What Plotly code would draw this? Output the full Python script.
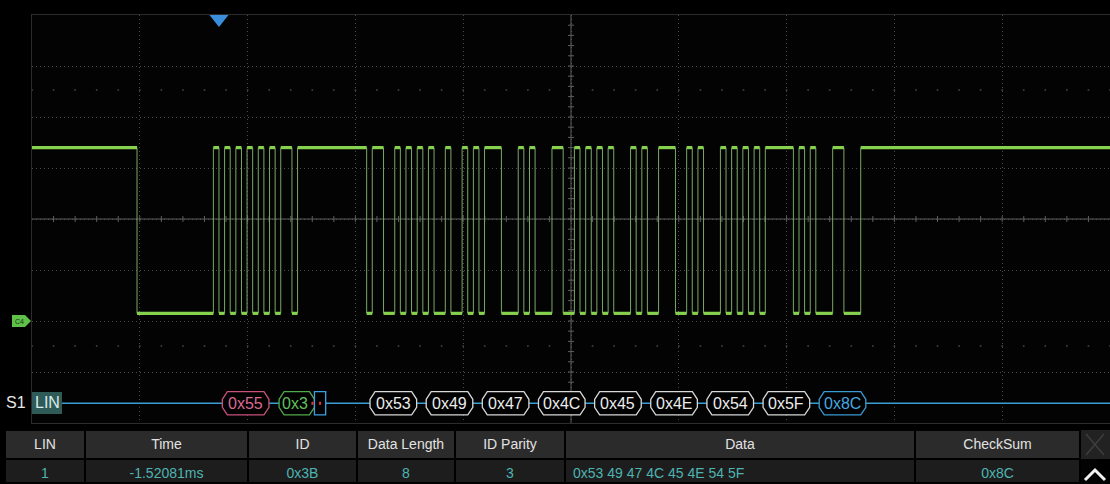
import plotly.graph_objects as go

W, H = 1110, 484

# ---------------- data ----------------
time_range_ms = [-3.469, 16.531]      # 2 ms/div, 10 divisions
volt_range = [-8.0, 24.0]             # 4 V/div, 8 divisions
time_per_div_ms = 2.0
volt_per_div = 4.0

initial_level = 1
edge_t_ms = [
    -1.521, -0.104,
    0.000, 0.104, 0.208, 0.313, 0.417, 0.521, 0.625, 0.729, 0.833, 0.938,
    1.042, 1.146, 1.354, 1.458,
    2.740, 2.844, 3.053, 3.261, 3.365, 3.469, 3.573, 3.678,
    3.782, 3.886, 3.990, 4.199, 4.303, 4.511, 4.615, 4.720,
    4.823, 4.927, 5.240, 5.552, 5.656, 5.761,
    5.865, 6.178, 6.386, 6.594, 6.698, 6.803,
    6.907, 7.011, 7.115, 7.220, 7.324, 7.636, 7.740, 7.845,
    7.948, 8.156, 8.469, 8.677, 8.781, 8.886,
    8.990, 9.303, 9.407, 9.511, 9.615, 9.719, 9.823, 9.928,
    10.032, 10.136, 10.657, 10.761, 10.865, 10.970,
    11.073, 11.386, 11.594, 11.906,
]
edge_level = [
    0, 1,
    0, 1, 0, 1, 0, 1, 0, 1, 0, 1,
    0, 1, 0, 1,
    0, 1, 0, 1, 0, 1, 0, 1,
    0, 1, 0, 1, 0, 1, 0, 1,
    0, 1, 0, 1, 0, 1,
    0, 1, 0, 1, 0, 1,
    0, 1, 0, 1, 0, 1, 0, 1,
    0, 1, 0, 1, 0, 1,
    0, 1, 0, 1, 0, 1, 0, 1,
    0, 1, 0, 1, 0, 1,
    0, 1, 0, 1,
]
level_volts = [0.6, 13.6]

bit_ms = 0.10417
byte_labels = ["0x55", "0x3", "0x53", "0x49", "0x47", "0x4C", "0x45", "0x4E", "0x54", "0x5F", "0x8C"]
byte_start_ms = [0.000, 1.042, 2.740, 3.782, 4.823, 5.865, 6.907, 7.948, 8.990, 10.032, 11.073]
byte_role = ["sync", "id", "data", "data", "data", "data", "data", "data", "data", "data", "checksum"]

table_header = ["LIN", "Time", "ID", "Data Length", "ID Parity", "Data", "CheckSum"]
table_row = ["1", "-1.52081ms", "0x3B", "8", "3", "0x53 49 47 4C 45 4E 54 5F", "0x8C"]

# ---------------- layout geometry ----------------
PL, PR, PT, PB = 32, 1110, 15, 423
def fx(p):
    return p / W
def fy(p):
    return (H - p) / H
ms_per_px = (time_range_ms[1] - time_range_ms[0]) / (PR - PL)
v_per_px = (volt_range[1] - volt_range[0]) / (PB - PT)

FONT = "Liberation Sans, Arial, sans-serif"
GREEN = "#86d24f"
EDGE = "#7aa866"

fig = go.Figure()

# ----- centre axes with tick marks -----
xc = (time_range_ms[0] + time_range_ms[1]) / 2
yc = (volt_range[0] + volt_range[1]) / 2
tx, ty = [], []
n = int(round((time_range_ms[1] - time_range_ms[0]) / (time_per_div_ms / 5)))
for i in range(1, n):
    t = time_range_ms[0] + i * time_per_div_ms / 5
    tx += [t, t, None]
    ty += [yc - 3 * v_per_px, yc + 3 * v_per_px, None]
m = int(round((volt_range[1] - volt_range[0]) / (volt_per_div / 5)))
for j in range(1, m):
    v = volt_range[0] + j * volt_per_div / 5
    tx += [xc - 3 * ms_per_px, xc + 3 * ms_per_px, None]
    ty += [v, v, None]
tx += [time_range_ms[0], time_range_ms[1], None, xc, xc, None]
ty += [yc, yc, None, volt_range[0], volt_range[1], None]
fig.add_trace(go.Scatter(x=tx, y=ty, mode="lines", line=dict(color="#5e5e5e", width=1),
                         hoverinfo="skip", showlegend=False))

# faint dotted rows
dx, dy = [], []
for yy in (90, 346):
    vv = volt_range[0] + (PB - yy) * v_per_px
    for i in range(0, n + 1):
        dx.append(time_range_ms[0] + i * time_per_div_ms / 5)
        dy.append(vv)
fig.add_trace(go.Scatter(x=dx, y=dy, mode="markers", marker=dict(color="#3c3c3c", size=2),
                         hoverinfo="skip", showlegend=False))

# ----- waveform -----
bounds = [time_range_ms[0]] + edge_t_ms + [time_range_ms[1]]
levels = [initial_level] + edge_level
hx, hy = [], []
for i, lv in enumerate(levels):
    hx += [bounds[i], bounds[i + 1], None]
    hy += [level_volts[lv], level_volts[lv], None]
vx, vy = [], []
for t in edge_t_ms:
    vx += [t, t, None]
    vy += [level_volts[0], level_volts[1], None]
fig.add_trace(go.Scatter(x=vx, y=vy, mode="lines", line=dict(color=EDGE, width=1),
                         hoverinfo="skip", showlegend=False))
fig.add_trace(go.Scatter(x=hx, y=hy, mode="lines", line=dict(color=GREEN, width=3.2),
                         hoverinfo="skip", showlegend=False))

shapes = []
annotations = []

def ann(x, y, text, size, color, xref="paper", yref="paper"):
    annotations.append(dict(x=x, y=y, xref=xref, yref=yref, text=text, showarrow=False,
                            xanchor="center", yanchor="middle",
                            font=dict(family=FONT, size=size, color=color)))

# ----- decode bus -----
BUS_Y = 403.3
HH = 11.6
shapes.append(dict(type="line", xref="paper", yref="paper", x0=fx(62), x1=1.0,
                   y0=fy(BUS_Y), y1=fy(BUS_Y), line=dict(color="#3a9ed4", width=1.5), layer="above"))

role_style = {
    "sync": ("#c8527e", "#dc6a94"),
    "id": ("#52a84c", "#62c05a"),
    "data": ("#d8d8d8", "#ececec"),
    "checksum": ("#3a9ad2", "#46a8e0"),
}

def octo(x0, x1, c_ms, yc_px, hh_px, a_px):
    yt, yb = fy(yc_px - hh_px), fy(yc_px + hh_px)
    ya, yb2 = fy(yc_px - a_px), fy(yc_px + a_px)
    return (f"M {x0},{ya} L {x0 + c_ms},{yt} L {x1 - c_ms},{yt} L {x1},{ya} "
            f"L {x1},{yb2} L {x1 - c_ms},{yb} L {x0 + c_ms},{yb} L {x0},{yb2} Z")

c_ms = 5 * ms_per_px
for lab, t0, role in zip(byte_labels, byte_start_ms, byte_role):
    border, txt = role_style[role]
    if role == "id":
        x0, x1 = t0 + 0.7 * bit_ms, t0 + 7.0 * bit_ms
    else:
        x0, x1 = t0 + 0.6 * bit_ms, t0 + 8.9 * bit_ms
    shapes.append(dict(type="path", xref="x", yref="paper", path=octo(x0, x1, c_ms, BUS_Y, HH, 4),
                       fillcolor="#000000", line=dict(color=border, width=1.3), layer="above"))
    ann((x0 + x1) / 2 - (0.4 * bit_ms if role == "id" else 0), fy(BUS_Y + 0.5), lab, 16, txt, xref="x")
    if role == "id":
        # parity box and red markers
        b0, b1 = t0 + 7.0 * bit_ms, t0 + 9.0 * bit_ms
        shapes.append(dict(type="rect", xref="x", yref="paper", x0=b0, x1=b1,
                           y0=fy(BUS_Y + HH), y1=fy(BUS_Y - HH), fillcolor="#000000",
                           line=dict(color="#3aa2e2", width=1.3), layer="above"))
        for xm in (b0 - 2 * ms_per_px, (b0 + b1) / 2):
            shapes.append(dict(type="rect", xref="x", yref="paper", x0=xm - ms_per_px, x1=xm + ms_per_px,
                               y0=fy(BUS_Y + 1.5), y1=fy(BUS_Y - 1.5), fillcolor="#e8343a",
                               line=dict(width=0), layer="above"))

# S1 LIN label
ann(fx(16), fy(BUS_Y - 1), "S1", 16, "#e6e6e6")
shapes.append(dict(type="rect", xref="paper", yref="paper", x0=fx(32), x1=fx(62), y0=fy(414), y1=fy(392),
                   fillcolor="#2e5a58", line=dict(width=0), layer="above"))
ann(fx(47), fy(BUS_Y - 1), "LIN", 16, "#dcebea")

# trigger position marker (t = 0)
tw = 9.5 * ms_per_px
shapes.append(dict(type="path", xref="x", yref="paper",
                   path=f"M {-tw},{fy(15)} L {tw},{fy(15)} L 0,{fy(27)} Z",
                   fillcolor="#3a8ede", line=dict(width=0), layer="above"))

# channel ground marker
gy = PB - (0 - volt_range[0]) / v_per_px
shapes.append(dict(type="path", xref="paper", yref="paper",
                   path=(f"M {fx(12)},{fy(gy - 6)} L {fx(25)},{fy(gy - 6)} L {fx(31)},{fy(gy)} "
                         f"L {fx(25)},{fy(gy + 6)} L {fx(12)},{fy(gy + 6)} Z"),
                   fillcolor="#5fc04a", line=dict(width=0), layer="above"))
ann(fx(19), fy(gy), "C4", 7, "#16320f")

# right-hand table controls
shapes.append(dict(type="rect", xref="paper", yref="paper", x0=fx(1081), x1=1.0, y0=fy(459), y1=fy(430),
                   fillcolor="#222222", line=dict(width=0)))
shapes.append(dict(type="path", xref="paper", yref="paper",
                   path=(f"M {fx(1086)},{fy(434)} L {fx(1104)},{fy(455)} M {fx(1104)},{fy(434)} "
                         f"L {fx(1086)},{fy(455)}"),
                   line=dict(color="#3e3e3e", width=1.5)))
shapes.append(dict(type="path", xref="paper", yref="paper",
                   path=f"M {fx(1085)},{fy(480)} L {fx(1095)},{fy(470)} L {fx(1105)},{fy(480)}",
                   line=dict(color="#f2f2f2", width=3)))

# ----- decode table -----
fig.add_trace(go.Table(
    domain=dict(x=[fx(5), fx(1080)], y=[0, fy(430)]),
    columnwidth=[80, 163, 109, 98, 110, 350, 165],
    header=dict(values=table_header, fill_color="#2b2b2b", line=dict(color="#000000", width=2),
                font=dict(family=FONT, size=14, color="#e2e2e2"), align="center", height=29),
    cells=dict(values=[[v] for v in table_row], fill_color="#1d1d1d", line=dict(color="#000000", width=2),
               font=dict(family=FONT, size=14, color="#4db4b2"),
               align=["center", "center", "center", "center", "center", "left", "center"], height=24),
))

fig.update_layout(
    width=W, height=H,
    margin=dict(l=0, r=0, t=0, b=0),
    paper_bgcolor="#000000", plot_bgcolor="#030303",
    showlegend=False, hovermode=False,
    shapes=shapes, annotations=annotations,
    xaxis=dict(domain=[fx(PL), 1.0], range=time_range_ms, showgrid=True, tick0=time_range_ms[0],
               dtick=time_per_div_ms, gridcolor="#4a4a4a", griddash="1px,3px", gridwidth=1,
               zeroline=False, showticklabels=False, ticks="", showline=True, mirror=True,
               linecolor="#2c2c2c", fixedrange=True),
    yaxis=dict(domain=[fy(PB), fy(PT)], range=volt_range, showgrid=True, tick0=volt_range[0],
               dtick=volt_per_div, gridcolor="#4a4a4a", griddash="1px,3px", gridwidth=1,
               zeroline=False, showticklabels=False, ticks="", showline=True, mirror=True,
               linecolor="#2c2c2c", fixedrange=True),
)

fig.write_html(
    "out.html",
    config={"displayModeBar": False},
    post_script="document.body.style.margin='0';document.body.style.background='#000';",
)
